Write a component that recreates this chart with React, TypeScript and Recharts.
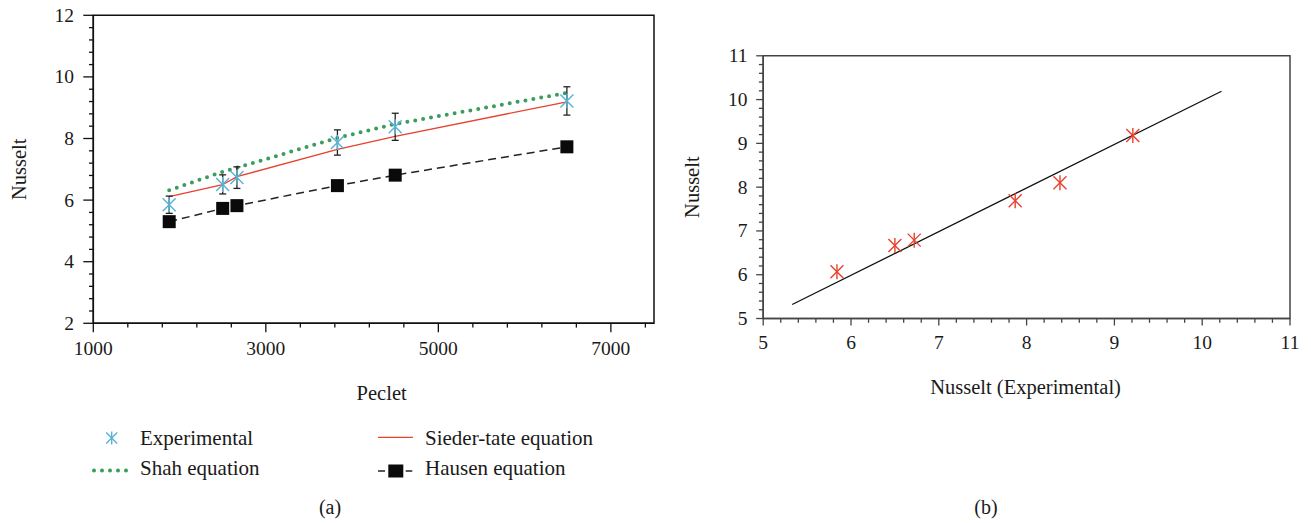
import React from 'react';
import { ComposedChart, Line, Scatter, XAxis, YAxis, ErrorBar, ReferenceArea, Label } from 'recharts';

// ---------- Panel (a) data ----------
const peclet = [1880, 2500, 2665, 3830, 4500, 6490];
const experimental = [5.85, 6.51, 6.73, 7.87, 8.38, 9.22];
const expError = [0.28, 0.31, 0.35, 0.41, 0.44, 0.46];
const shah = [6.32, 6.92, 7.05, 8.02, 8.47, 9.48];
const siederTate = [6.11, 6.5, 6.76, 7.65, 8.07, 9.19];
const hausen = [5.3, 5.73, 5.82, 6.47, 6.81, 7.73];

const pecletMajorTicks = [1000, 3000, 5000, 7000];
const pecletAllTicks = [1000, 1400, 1800, 2200, 2600, 3000, 3400, 3800, 4200, 4600, 5000, 5400, 5800, 6200, 6600, 7000, 7400];
const nusseltMajorTicks = [2, 4, 6, 8, 10, 12];
const nusseltAllTicks = [2, 2.4, 2.8, 3.2, 3.6, 4, 4.4, 4.8, 5.2, 5.6, 6, 6.4, 6.8, 7.2, 7.6, 8, 8.4, 8.8, 9.2, 9.6, 10, 10.4, 10.8, 11.2, 11.6, 12];

// ---------- Panel (b) data ----------
const nuExperimental = [5.84, 6.5, 6.72, 7.87, 8.38, 9.21];
const nuPredicted = [6.07, 6.67, 6.79, 7.69, 8.1, 9.18];
const fitX = [5.33, 10.22];
const fitY = [5.32, 10.19];

const bMajorTicks = [5, 6, 7, 8, 9, 10, 11];
const bAllTicks = [5, 5.2, 5.4, 5.6, 5.8, 6, 6.2, 6.4, 6.6, 6.8, 7, 7.2, 7.4, 7.6, 7.8, 8, 8.2, 8.4, 8.6, 8.8, 9, 9.2, 9.4, 9.6, 9.8, 10, 10.2, 10.4, 10.6, 10.8, 11];

const leftData = peclet.map((pe, i) => ({
  pe,
  exp: experimental[i],
  err: expError[i],
  shah: shah[i],
  sieder: siederTate[i],
  hausen: hausen[i],
}));
const rightData = nuExperimental.map((x, i) => ({ x, y: nuPredicted[i] }));
const fitData = fitX.map((x, i) => ({ x, y: fitY[i] }));

const FONT = "'Liberation Serif', 'Times New Roman', serif";
const TEXT = '#1a1a1a';
const CYAN = '#58b2d4';
const GREEN = '#3a9d5d';
const RED = '#e8412c';

const isMajor = (v: number, majors: number[]) => majors.some((m) => Math.abs(m - v) < 1e-6);

const makeXTick = (majors: number[], majorLen: number, minorLen: number, labelDy: number, color: string) => (props: any) => {
  const { x, y, payload } = props;
  const major = isMajor(payload.value, majors);
  return (
    <g>
      <line x1={x} y1={y} x2={x} y2={y + (major ? majorLen : minorLen)} stroke={color} strokeWidth={1.3} />
      {major && (
        <text x={x} y={y + labelDy} textAnchor="middle" fontFamily={FONT} fontSize={19.5} fill={TEXT}>
          {payload.value}
        </text>
      )}
    </g>
  );
};

const makeYTick = (majors: number[], majorLen: number, minorLen: number, labelDx: number, color: string) => (props: any) => {
  const { x, y, payload } = props;
  const major = isMajor(payload.value, majors);
  return (
    <g>
      <line x1={x} y1={y} x2={x - (major ? majorLen : minorLen)} y2={y} stroke={color} strokeWidth={1.3} />
      {major && (
        <text x={x - labelDx} y={y + 6.5} textAnchor="end" fontFamily={FONT} fontSize={19.5} fill={TEXT}>
          {payload.value}
        </text>
      )}
    </g>
  );
};

const Asterisk = ({ cx, cy, color, a = 6.5, r = 7.5 }: any) => (
  <g stroke={color} strokeWidth={1.4} fill="none">
    <line x1={cx} y1={cy - r} x2={cx} y2={cy + r} />
    <line x1={cx - a} y1={cy - a} x2={cx + a} y2={cy + a} />
    <line x1={cx - a} y1={cy + a} x2={cx + a} y2={cy - a} />
  </g>
);

const SquareDot = (props: any) => {
  const { cx, cy, index } = props;
  if (cx == null || cy == null) return <g key={index} />;
  return <rect key={index} x={cx - 6.5} y={cy - 6.5} width={13} height={13} fill="#0a0a0a" />;
};

const xTitle = (text: string, dx: number, dy: number) => (props: any) => {
  const vb = props.viewBox || {};
  return (
    <text x={vb.x + vb.width / 2 + dx} y={vb.y + dy} textAnchor="middle" fontFamily={FONT} fontSize={20.5} fill={TEXT}>
      {text}
    </text>
  );
};

const yTitle = (text: string, bx: number) => (props: any) => {
  const vb = props.viewBox || {};
  const cy = vb.y + vb.height / 2;
  return (
    <text x={bx} y={cy} textAnchor="middle" transform={`rotate(-90, ${bx}, ${cy})`} fontFamily={FONT} fontSize={20.5} fill={TEXT}>
      {text}
    </text>
  );
};

const LEFT_AXIS = '#111';
const RIGHT_AXIS = '#444';

export default function App() {
  return (
    <div style={{ position: 'absolute', left: 0, top: 0, width: 1311, height: 523, background: '#fff', fontFamily: FONT }}>
      <div style={{ position: 'absolute', left: 0, top: 0 }}>
        <ComposedChart width={700} height={420} data={leftData} margin={{ top: 15.3, right: 46, bottom: 0, left: 0 }}>
          <XAxis
            dataKey="pe"
            type="number"
            domain={[1000, 7500]}
            ticks={pecletAllTicks}
            interval={0}
            tickSize={0}
            tickMargin={0}
            tickLine={false}
            height={96.7}
            axisLine={{ stroke: LEFT_AXIS, strokeWidth: 1.5 }}
            tick={makeXTick(pecletMajorTicks, 9, 4.3, 31.5, LEFT_AXIS)}
            allowDataOverflow
          >
            <Label content={xTitle('Peclet', 8, 77)} />
          </XAxis>
          <YAxis
            type="number"
            domain={[2, 12]}
            ticks={nusseltAllTicks}
            interval={0}
            tickSize={0}
            tickMargin={0}
            tickLine={false}
            width={93.3}
            axisLine={{ stroke: LEFT_AXIS, strokeWidth: 1.5 }}
            tick={makeYTick(nusseltMajorTicks, 10, 4.3, 19.3, LEFT_AXIS)}
            allowDataOverflow
          >
            <Label content={yTitle('Nusselt', 26)} />
          </YAxis>
          <ReferenceArea x1={1000} x2={7500} y1={2} y2={12} fill="none" stroke={LEFT_AXIS} strokeWidth={1.5} fillOpacity={0} />
          <Line dataKey="sieder" type="linear" stroke={RED} strokeWidth={1.3} dot={false} isAnimationActive={false} />
          <Line
            dataKey="shah"
            type="linear"
            stroke={GREEN}
            strokeWidth={4}
            strokeDasharray="0 8"
            strokeLinecap="round"
            dot={false}
            isAnimationActive={false}
          />
          <Line
            dataKey="hausen"
            type="linear"
            stroke="#222"
            strokeWidth={1.5}
            strokeDasharray="8 5"
            dot={SquareDot}
            activeDot={false}
            isAnimationActive={false}
          />
          <Scatter dataKey="exp" isAnimationActive={false} shape={(p: any) => <Asterisk cx={p.cx} cy={p.cy} color={CYAN} />}>
            <ErrorBar dataKey="err" direction="y" width={3.5} stroke="#222" strokeWidth={1.3} />
          </Scatter>
        </ComposedChart>
      </div>

      <div style={{ position: 'absolute', left: 670, top: 0 }}>
        <ComposedChart width={641} height={420} data={rightData} margin={{ top: 55.8, right: 21, bottom: 0, left: 0 }}>
          <XAxis
            dataKey="x"
            type="number"
            domain={[5, 11]}
            ticks={bAllTicks}
            interval={0}
            tickSize={0}
            tickMargin={0}
            tickLine={false}
            height={101.5}
            axisLine={{ stroke: RIGHT_AXIS, strokeWidth: 1.5 }}
            tick={makeXTick(bMajorTicks, 7, 4.3, 30, RIGHT_AXIS)}
            allowDataOverflow
          >
            <Label content={xTitle('Nusselt (Experimental)', -1, 75.5)} />
          </XAxis>
          <YAxis
            type="number"
            domain={[5, 11]}
            ticks={bAllTicks}
            interval={0}
            tickSize={0}
            tickMargin={0}
            tickLine={false}
            width={93.2}
            axisLine={{ stroke: RIGHT_AXIS, strokeWidth: 1.5 }}
            tick={makeYTick(bMajorTicks, 7, 4.3, 15.6, RIGHT_AXIS)}
            allowDataOverflow
          >
            <Label content={yTitle('Nusselt', 29.4)} />
          </YAxis>
          <ReferenceArea x1={5} x2={11} y1={5} y2={11} fill="none" stroke={RIGHT_AXIS} strokeWidth={1.5} fillOpacity={0} />
          <Line data={fitData} dataKey="y" type="linear" stroke="#111" strokeWidth={1.3} dot={false} activeDot={false} isAnimationActive={false} />
          <Scatter dataKey="y" isAnimationActive={false} shape={(p: any) => <Asterisk cx={p.cx} cy={p.cy} color={RED} a={6.5} r={7.5} />} />
        </ComposedChart>
      </div>

      <svg width={1311} height={523} style={{ position: 'absolute', left: 0, top: 0, pointerEvents: 'none' }}>
        <g fontFamily={FONT} fontSize={21} fill={TEXT}>
          <Asterisk cx={111.7} cy={438} color={CYAN} a={5.5} r={6.5} />
          <text x={140} y={444.5}>Experimental</text>
          <line x1={378} y1={437.3} x2={413} y2={437.3} stroke={RED} strokeWidth={1.3} />
          <text x={425} y={444.5}>Sieder-tate equation</text>
          <line x1={94} y1={470.5} x2={127} y2={470.5} stroke={GREEN} strokeWidth={4} strokeDasharray="0 8" strokeLinecap="round" />
          <text x={140} y={475}>Shah equation</text>
          <line x1={378} y1={471} x2={385} y2={471} stroke="#222" strokeWidth={1.5} />
          <rect x={388.3} y={464.5} width={15} height={13} fill="#0a0a0a" />
          <line x1={405.7} y1={471} x2={412.3} y2={471} stroke="#222" strokeWidth={1.5} />
          <text x={425} y={475}>Hausen equation</text>
          <text x={330} y={514} textAnchor="middle" fontSize={20}>(a)</text>
          <text x={986} y={514} textAnchor="middle" fontSize={20}>(b)</text>
        </g>
      </svg>
    </div>
  );
}
